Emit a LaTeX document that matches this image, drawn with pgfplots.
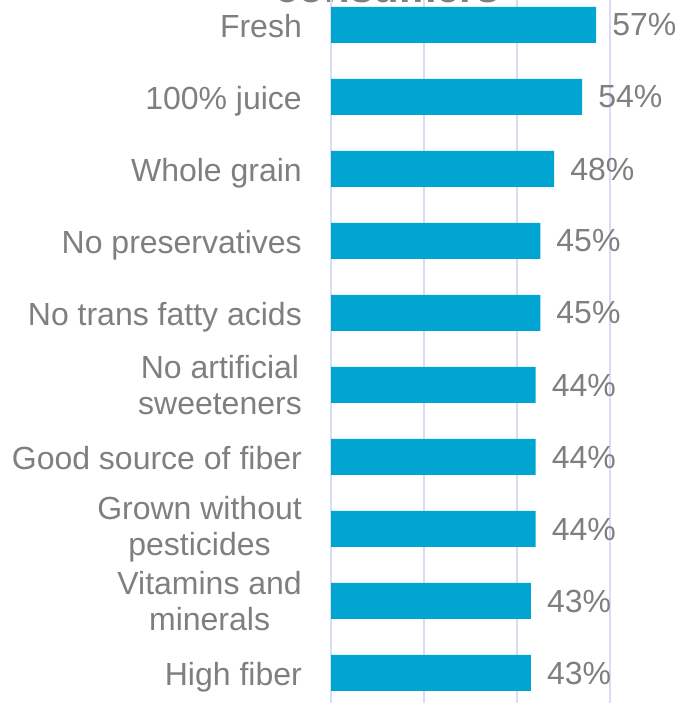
\documentclass[border=0pt]{standalone}
\usepackage{pgfplots}
\pgfplotsset{compat=1.18}
\usepackage{fontspec}
\setmainfont{Liberation Sans}
\definecolor{barblue}{HTML}{00A5D1}
\definecolor{txtgray}{HTML}{7F7F7F}
\definecolor{gridc}{HTML}{D9DCF2}
\newcommand{\nd}[1]{\raisebox{0pt}[\height][0pt]{#1}}
\begin{document}
\begin{tikzpicture}
\useasboundingbox (0pt,0pt) rectangle (678pt,703pt);
\clip (0pt,0pt) rectangle (678pt,703pt);
\node[anchor=base, font=\fontsize{42}{50}\selectfont\bfseries, text=txtgray, inner sep=0pt] at (387.5pt,700.5pt) {consumers};
\begin{axis}[
 at={(331pt,-6pt)}, anchor=south west, scale only axis, width=279pt, height=720pt,
 xbar, bar width=36pt, xmin=0, xmax=60, ymin=-0.5, ymax=9.5,
 clip=false,
 xtick={0,20,40,60}, xticklabels={}, xmajorgrids,
 grid style={gridc, line width=1.2pt},
 axis line style={draw=none}, major tick length=0pt,
 ytick={0,...,9},
 yticklabels={\nd{High fiber},{Vitamins and\\minerals},{Grown without\\pesticides},\nd{Good source of fiber},{No artificial\\sweeteners},\nd{No trans fatty acids},\nd{No preservatives},\nd{Whole grain},\nd{100\% juice},\nd{Fresh}},
 y tick label style={font=\fontsize{32}{36}\selectfont, text=txtgray, align=center, inner sep=0pt, anchor=east, xshift=-29pt, yshift=-0.5pt},
 /pgf/number format/assume math mode=true,
 nodes near coords={\pgfmathprintnumber{\pgfplotspointmeta}\%},
 nodes near coords style={font=\fontsize{32}{36}\selectfont, text=txtgray, anchor=west, inner sep=0pt, xshift=16pt},
]
\addplot[fill=barblue, draw=none] coordinates {(43,0) (43,1) (44,2) (44,3) (44,4) (45,5) (45,6) (48,7) (54,8) (57,9)};
\end{axis}
\end{tikzpicture}
\end{document}
